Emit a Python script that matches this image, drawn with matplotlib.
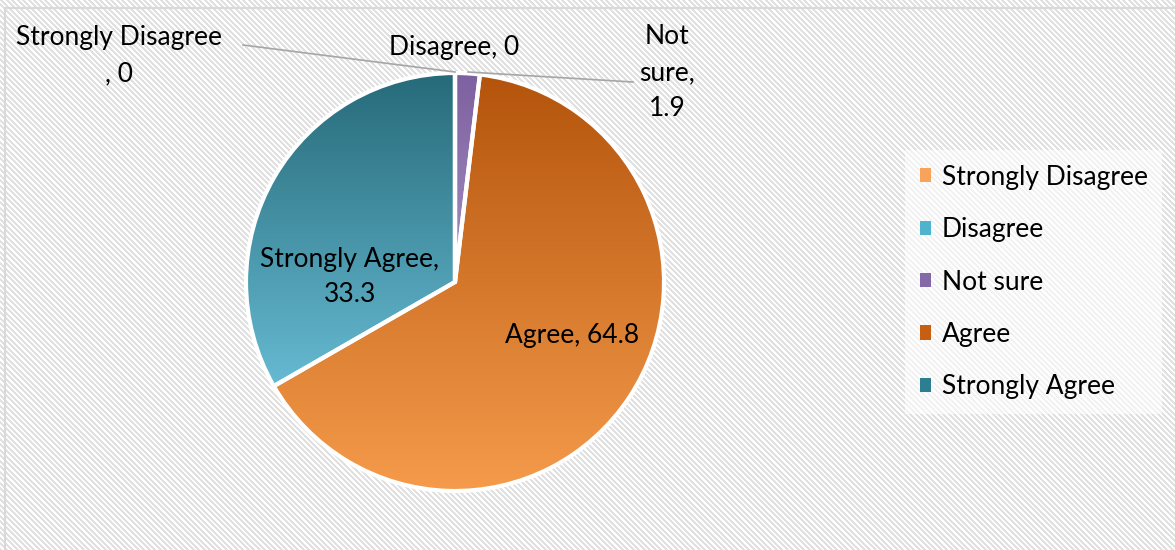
import numpy as np
import matplotlib
matplotlib.use("Agg")
import matplotlib.pyplot as plt
from matplotlib.colors import LinearSegmentedColormap
from matplotlib.patches import Patch

# Survey responses (percent)
categories = ["Strongly Disagree", "Disagree", "Not sure", "Agree", "Strongly Agree"]
values = [0, 0, 1.9, 64.8, 33.3]

# Slice gradients (top colour, bottom colour) and legend swatch colours
grad_top = ["#F79646", "#4BACC6", "#7D60A0", "#B4540C", "#266A79"]
grad_bottom = ["#FAC090", "#93CDDD", "#A390C0", "#F59B4B", "#66BAD2"]
legend_colors = ["#F8A35C", "#4FB3CE", "#8469A8", "#C65F12", "#2E7E92"]

W, H = 1175, 550
plt.rcParams["font.family"] = ["Lato", "DejaVu Sans"]
FS = 19

fig = plt.figure(figsize=(W / 100, H / 100), dpi=100)
ax = fig.add_axes([0, 0, 1, 1])

# Diagonal striped chart-area background
yy, xx = np.mgrid[0:H, 0:W]
stripes = ((xx - yy) % 5.5) < 2.7
bg = np.where(stripes, 0.88, 1.0)
ax.imshow(bg, cmap="gray", vmin=0, vmax=1, extent=[0, W, 0, H],
          origin="upper", interpolation="nearest", zorder=0)
# Chart border
ax.plot([5, 5, W + 5], [-5, H - 8, H - 8], color="#D9D9D9", lw=1.5, zorder=1)

# Pie
cx, cy, r = 455, H - 282, 209
wedges, _ = ax.pie(values, center=(cx, cy), radius=r, startangle=90,
                   counterclock=False, frame=True,
                   wedgeprops=dict(facecolor="none", edgecolor="white",
                                   linewidth=3, zorder=4))
ax.set_xlim(0, W)
ax.set_ylim(0, H)
ax.set_aspect("equal")
ax.axis("off")

for w, c0, c1 in zip(wedges, grad_top, grad_bottom):
    ext = w.get_path().get_extents()
    if ext.height < 1:
        continue
    cmap = LinearSegmentedColormap.from_list("g", [c0, c1])
    grad = np.linspace(0, 1, 256).reshape(-1, 1)
    im = ax.imshow(grad, cmap=cmap, aspect="auto",
                   extent=[ext.x0, ext.x1, ext.y0, ext.y1],
                   origin="upper", zorder=3)
    im.set_clip_path(w)

# Data labels
def lab(i, sep=", "):
    return f"{categories[i]}{sep}{values[i]:g}"

LS = 1.55
ax.text(119, H - 56, lab(0, "\n, "), ha="center", va="center", fontsize=FS,
        linespacing=LS, zorder=6)
ax.text(454, H - 48, lab(1), ha="center", va="center", fontsize=FS, zorder=6)
ax.text(667, H - 73, f"Not\nsure,\n{values[2]:g}", ha="center", va="center",
        fontsize=FS, linespacing=LS, zorder=6)
ax.text(572, H - 335, lab(3), ha="center", va="center", fontsize=FS, zorder=6)
ax.text(350, H - 277, lab(4, ",\n"), ha="center", va="center", fontsize=FS,
        linespacing=LS, zorder=6)

# Leader lines
ax.plot([243, 455], [H - 45, H - 72], color="#A6A6A6", lw=1.2, zorder=5)
ax.plot([468, 633], [H - 72, H - 82], color="#A6A6A6", lw=1.2, zorder=5)

# Legend
handles = [Patch(facecolor=c, edgecolor="none") for c in legend_colors]
leg = ax.legend(handles, categories, loc="center left",
                bbox_to_anchor=(905 / W, 1 - 282 / H), frameon=True,
                fontsize=FS, handlelength=0.45, handleheight=0.45,
                handletextpad=0.4, labelspacing=1.04, borderpad=0.55,
                borderaxespad=0)
leg.get_frame().set_facecolor("white")
leg.get_frame().set_alpha(0.6)
leg.get_frame().set_edgecolor("none")
leg.get_frame().set_boxstyle("square", pad=0)

fig.savefig("out.png", dpi=100)
